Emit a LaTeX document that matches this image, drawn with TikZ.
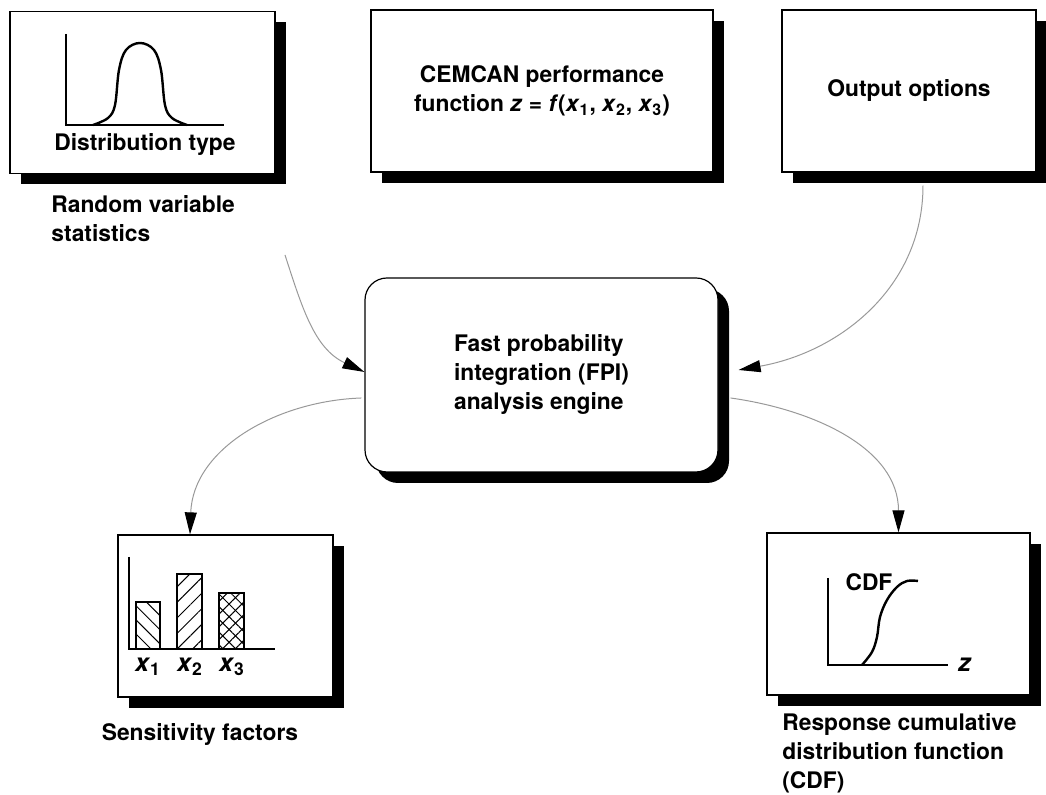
\documentclass[tikz,border=0pt]{standalone}
\usepackage{fontspec}
\setmainfont{TeX Gyre Heros}
\usetikzlibrary{arrows.meta,shadows,patterns.meta}

\begin{document}
\begin{tikzpicture}[
  x=0.5pt, y=0.5pt,
  every node/.style={font=\fontsize{11.4}{14.5}\selectfont\bfseries},
  card/.style={draw,fill=white,line width=0.6pt,minimum height=81pt,inner sep=0pt,
    drop shadow={shadow xshift=5.5pt,shadow yshift=-5.5pt,fill=black,opacity=1}},
  engine/.style={card,rounded corners=11pt,minimum width=176.5pt,minimum height=97pt,align=left},
  caption/.style={anchor=north west,inner sep=0pt,align=left},
  flow/.style={draw=black!40,line width=0.5pt,-{Triangle[black,length=11pt,width=6pt]}},
  axis/.style={line width=0.6pt},
  curve/.style={line width=1.2pt,line join=round},
  varlab/.style={font=\fontsize{12.5}{14}\selectfont\bfseries}]

  \useasboundingbox (0,0) rectangle (1046,795);

  \node(dist)  [card,minimum width=132.5pt] at (142.5,702.5) {};
  \node(perf)  [card,minimum width=171pt,align=center] at (542,704)
    {CEMCAN performance\\function \textit{z} = \textit{f}(\textit{x}\textsubscript{1}, \textit{x}\textsubscript{2}, \textit{x}\textsubscript{3})};
  \node(opts)  [card,minimum width=127pt] at (909,704) {Output options};
  \node(fpi)   [engine] at (541.5,420) {Fast probability\\integration (FPI)\\analysis engine};
  \node(sens)  [card,minimum width=107.5pt] at (225.5,179) {};
  \node(cdf)   [card,minimum width=131.5pt] at (898.5,181) {};

  \draw[axis] (66,761) -- (66,670) -- (224,670);
  \draw[curve] plot[smooth,tension=0.6] coordinates {(93,670) (108,677) (115,690) (119,725) (126,745)
    (140,752) (154,745) (161,725) (165,690) (172,677) (187,670)};
  \node(disttype) at (145,650) {Distribution type};

  \draw[axis] (129,238) -- (129,146) -- (275,146);
  \draw[axis,pattern={Lines[angle=-45,distance=5pt,line width=0.5pt]}] (136,146) rectangle (160,193);
  \draw[axis,pattern={Lines[angle=45,distance=5.5pt,line width=0.5pt]}] (177,146) rectangle (202,221);
  \path[pattern={Lines[angle=-45,distance=4.5pt,line width=0.5pt]}] (219,146) rectangle (244,202);
  \draw[axis,pattern={Lines[angle=45,distance=4.5pt,line width=0.5pt]}] (219,146) rectangle (244,202);
  \node(lx1) [varlab] at (148,128) {\textit{x}\textsubscript{1}};
  \node(lx2) [varlab] at (190,128) {\textit{x}\textsubscript{2}};
  \node(lx3) [varlab] at (232,128) {\textit{x}\textsubscript{3}};

  \draw[axis] (828,217) -- (828,130) -- (948,130);
  \draw[curve] plot[smooth,tension=0.6] coordinates {(862,130) (872,143) (877,158) (880,178)
    (887,195) (897,208) (907,214) (918,214)};
  \node(zlab)   [varlab] at (965,130) {\textit{z}};
  \node(cdflab) at (869,213) {CDF};

  \node(rvs)  [caption] at (51,600) {Random variable\\statistics};
  \node(sensf) at (200,60) {Sensitivity factors};
  \node(resp) [caption] at (782,82) {Response cumulative\\distribution function\\(CDF)};

  \coordinate(rvsout) at (285,540);
  \draw[flow] (rvsout) to[out=-72,in=155] ([yshift=1.5pt]fpi.west);
  \draw[flow] ([shift={(14,-13)}]opts.south) to[out=-90,in=10] ([shift={(20,5)}]fpi.east);
  \draw[flow] ([shift={(-3,-23)}]fpi.west) to[out=182,in=88] ([xshift=-17.75pt]sens.north);
  \draw[flow] ([shift={(12,-23)}]fpi.east) to[out=-8,in=90] (cdf.north);

\end{tikzpicture}
\end{document}
